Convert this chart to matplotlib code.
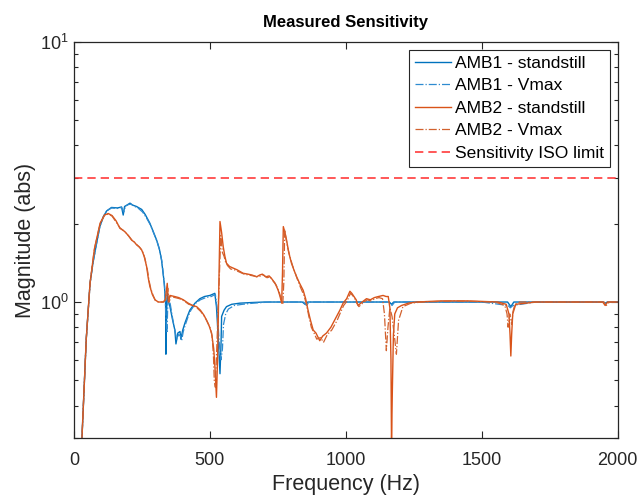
import numpy as np
import matplotlib.pyplot as plt
from matplotlib.ticker import LogLocator, NullFormatter, FixedLocator

plt.rcParams['font.family'] = ['Liberation Sans', 'DejaVu Sans']

# AMB1 - standstill
amb1_f = [28, 45, 59, 70, 83, 95, 108, 120, 138, 160, 175, 181, 186, 195, 206, 215, 230, 249, 262, 279,
          292, 304, 314, 322, 332, 337, 338, 341, 343, 348, 353, 362, 371, 375, 382, 390, 393, 400, 408,
          417, 426, 445, 463, 480, 500, 518, 524, 530, 537, 541, 543, 552, 561, 580, 610, 650, 700, 800,
          840, 850, 860, 900, 1000, 1100, 1160, 1168, 1176, 1300, 1500, 1595, 1607, 1618, 1700, 1900,
          1945, 1954, 1962, 2000]
amb1_m = [0.28, 0.72, 1.18, 1.42, 1.68, 1.95, 2.13, 2.24, 2.31, 2.30, 2.32, 2.16, 2.33, 2.36, 2.40, 2.36,
          2.33, 2.27, 2.17, 2.01, 1.86, 1.73, 1.60, 1.45, 1.18, 0.99, 0.63, 0.95, 1.08, 1.00, 0.96, 0.86,
          0.78, 0.69, 0.76, 0.77, 0.72, 0.78, 0.83, 0.88, 0.93, 0.99, 1.03, 1.05, 1.06, 1.08, 0.96, 0.75,
          0.53, 0.70, 0.88, 0.93, 0.96, 0.98, 0.99, 0.995, 1.0, 1.0, 1.0, 0.98, 1.0, 1.0, 1.0, 1.0, 1.0,
          0.98, 1.0, 1.0, 1.0, 1.0, 0.96, 1.0, 1.0, 1.0, 1.0, 0.99, 1.0, 1.0]

# AMB1 - Vmax
amb1v_f = [28, 45, 59, 70, 83, 95, 108, 120, 138, 160, 175, 183, 190, 200, 210, 220, 235, 252, 265, 282,
           295, 306, 316, 324, 333, 339, 342, 345, 349, 355, 364, 373, 378, 385, 392, 396, 402, 410, 420,
           430, 448, 465, 485, 505, 520, 527, 534, 541, 546, 550, 558, 568, 590, 620, 660, 720, 800, 845,
           855, 865, 900, 1000, 1100, 1160, 1170, 1180, 1300, 1500, 1597, 1605, 1615, 1700, 1900, 1948,
           1956, 1965, 2000]
amb1v_m = [0.28, 0.72, 1.18, 1.42, 1.68, 1.95, 2.13, 2.24, 2.30, 2.29, 2.31, 2.22, 2.34, 2.37, 2.38, 2.34,
           2.30, 2.22, 2.12, 1.97, 1.82, 1.70, 1.57, 1.42, 1.15, 0.85, 0.76, 0.98, 1.04, 0.97, 0.85, 0.76,
           0.72, 0.75, 0.74, 0.71, 0.77, 0.82, 0.88, 0.93, 0.99, 1.02, 1.04, 1.05, 1.07, 0.93, 0.70, 0.60,
           0.66, 0.82, 0.90, 0.94, 0.97, 0.98, 0.99, 1.0, 1.0, 1.0, 0.97, 1.0, 1.0, 1.0, 1.0, 1.0, 0.97,
           1.0, 1.0, 1.0, 0.97, 0.95, 0.97, 1.0, 1.0, 1.0, 0.98, 1.0, 1.0]

# AMB2 - standstill
amb2_f = [28, 45, 59, 75, 96, 112, 126, 140, 155, 169, 180, 188, 200, 212, 222, 230, 240, 249, 258, 267,
          273, 279, 288, 298, 310, 328, 336, 343, 347, 353, 370, 385, 402, 420, 436, 451, 465, 478, 488,
          497, 506, 514, 519, 524, 528, 532, 537, 543, 549, 555, 561, 572, 586, 600, 622, 640, 655, 672,
          683, 693, 705, 718, 727, 740, 751, 758, 764, 767, 770, 776, 782, 790, 800, 810, 819, 830, 843,
          852, 861, 870, 880, 890, 904, 915, 929, 945, 966, 978, 990, 1003, 1015, 1022, 1030, 1038, 1045,
          1060, 1076, 1090, 1105, 1120, 1137, 1148, 1156, 1162, 1166, 1168, 1171, 1175, 1180, 1190, 1205,
          1230, 1260, 1350, 1450, 1560, 1590, 1600, 1604, 1607, 1610, 1614, 1625, 1700, 1800, 1945, 1954,
          1963, 2000]
amb2_m = [0.28, 0.72, 1.18, 1.60, 2.01, 2.16, 2.19, 2.15, 2.05, 1.92, 1.89, 1.86, 1.80, 1.73, 1.70, 1.66,
          1.63, 1.585, 1.50, 1.37, 1.24, 1.15, 1.07, 1.02, 1.00, 1.00, 1.02, 1.18, 1.00, 1.06, 1.05, 1.04,
          1.02, 0.99, 0.97, 0.96, 0.93, 0.89, 0.85, 0.81, 0.76, 0.66, 0.55, 0.43, 0.60, 1.05, 2.04, 1.85,
          1.63, 1.50, 1.41, 1.37, 1.35, 1.33, 1.29, 1.28, 1.27, 1.25, 1.27, 1.28, 1.25, 1.26, 1.23, 1.18,
          1.11, 1.05, 0.99, 1.30, 1.95, 1.85, 1.73, 1.55, 1.41, 1.32, 1.25, 1.18, 1.11, 1.03, 0.93, 0.85,
          0.78, 0.76, 0.71, 0.74, 0.76, 0.80, 0.88, 0.93, 0.99, 1.03, 1.10, 1.08, 1.05, 1.02, 0.97, 1.00,
          1.03, 1.02, 1.04, 1.05, 1.06, 1.05, 1.05, 0.95, 0.60, 0.28, 0.45, 0.75, 0.90, 0.95, 0.97, 0.99,
          1.00, 1.01, 1.01, 1.00, 0.98, 0.90, 0.75, 0.62, 0.75, 0.90, 0.98, 1.00, 1.00, 1.00, 0.97, 1.00,
          1.00]

# AMB2 - Vmax
amb2v_f = [28, 45, 59, 75, 96, 112, 126, 140, 155, 169, 182, 192, 204, 215, 225, 234, 244, 252, 261, 270,
           276, 282, 291, 300, 312, 330, 338, 345, 350, 356, 372, 388, 405, 422, 438, 452, 466, 480, 490,
           500, 508, 513, 516, 520, 526, 533, 540, 546, 552, 558, 565, 576, 590, 604, 626, 644, 660, 676,
           688, 698, 710, 722, 731, 744, 755, 762, 768, 772, 775, 780, 786, 794, 804, 813, 822, 833, 846,
           855, 864, 873, 883, 893, 907, 918, 932, 948, 968, 980, 992, 1005, 1017, 1025, 1033, 1040, 1048,
           1062, 1078, 1092, 1107, 1122, 1135, 1142, 1149, 1155, 1162, 1170, 1178, 1186, 1194, 1210, 1240,
           1280, 1400, 1550, 1585, 1593, 1597, 1603, 1610, 1615, 1622, 1640, 1750, 1900, 1950, 1958, 1970,
           2000]
amb2v_m = [0.28, 0.72, 1.18, 1.60, 2.00, 2.15, 2.18, 2.14, 2.03, 1.93, 1.88, 1.84, 1.78, 1.72, 1.69, 1.65,
           1.61, 1.57, 1.47, 1.33, 1.21, 1.13, 1.06, 1.01, 1.00, 1.00, 1.03, 1.13, 1.00, 1.05, 1.04, 1.03,
           1.01, 0.98, 0.97, 0.95, 0.92, 0.88, 0.84, 0.80, 0.74, 0.62, 0.50, 0.47, 0.70, 1.10, 1.80, 1.55,
           1.50, 1.42, 1.38, 1.34, 1.33, 1.31, 1.28, 1.27, 1.26, 1.25, 1.26, 1.27, 1.24, 1.25, 1.21, 1.16,
           1.09, 1.03, 0.98, 1.20, 1.90, 1.75, 1.62, 1.50, 1.38, 1.30, 1.22, 1.14, 1.06, 0.98, 0.88, 0.80,
           0.76, 0.72, 0.73, 0.70, 0.75, 0.78, 0.85, 0.91, 0.97, 1.01, 1.08, 1.06, 1.03, 0.99, 0.96, 0.99,
           1.02, 1.01, 1.03, 1.04, 1.03, 0.90, 0.65, 0.80, 0.95, 0.88, 0.75, 0.63, 0.85, 0.96, 0.99, 1.00,
           1.01, 1.00, 0.97, 0.90, 0.80, 0.90, 0.82, 0.92, 0.98, 1.00, 1.00, 1.00, 1.00, 0.97, 1.00, 1.00]

iso_limit = 3.0

blue = '#0072BD'
orange = '#D95319'

fig = plt.figure(figsize=(6.43, 4.98), dpi=100)
ax = fig.add_axes([0.1151, 0.1205, 0.8455, 0.7952])

ax.semilogy(amb1_f, amb1_m, color=blue, lw=1.0, label='AMB1 - standstill')
ax.semilogy(amb1v_f, amb1v_m, color='#2E8BD0', lw=0.9, ls='-.', label='AMB1 - Vmax')
ax.semilogy(amb2_f, amb2_m, color=orange, lw=1.0, label='AMB2 - standstill')
ax.semilogy(amb2v_f, amb2v_m, color='#D2612E', lw=0.9, ls='-.', label='AMB2 - Vmax')
ax.axhline(iso_limit, color='#FF3B3B', lw=1.2, ls=(0, (5, 3)), label='Sensitivity ISO limit')

ax.set_xlim(0, 2000)
ax.set_ylim(0.3, 10)
ax.xaxis.set_major_locator(FixedLocator([0, 500, 1000, 1500, 2000]))
ax.yaxis.set_major_locator(LogLocator(base=10))
ax.yaxis.set_minor_locator(LogLocator(base=10, subs=np.arange(2, 10)))
ax.yaxis.set_minor_formatter(NullFormatter())

ax.tick_params(which='both', direction='in', top=True, right=True, labelsize=13, color='#262626',
               labelcolor='#262626')
ax.tick_params(axis='x', pad=10)
ax.tick_params(axis='y', pad=4)
ax.tick_params(which='major', length=5, width=0.8)
ax.tick_params(which='minor', length=3, width=0.8)
for s in ax.spines.values():
    s.set_color('#262626')
    s.set_linewidth(0.9)

ax.set_xlabel('Frequency (Hz)', fontsize=15.5, color='#262626', labelpad=4)
ax.set_ylabel('Magnitude (abs)', fontsize=15.5, color='#262626', labelpad=3)
ax.set_title('Measured Sensitivity', fontsize=12, fontweight='bold', pad=11)

leg = ax.legend(loc='upper right', fontsize=12.5, frameon=True, fancybox=False, framealpha=1,
                edgecolor='#262626', handlelength=2.1, handletextpad=0.2, labelspacing=0.42,
                borderaxespad=0.45, borderpad=0.35)
leg.get_frame().set_linewidth(0.8)

fig.savefig('out.png', dpi=100)
